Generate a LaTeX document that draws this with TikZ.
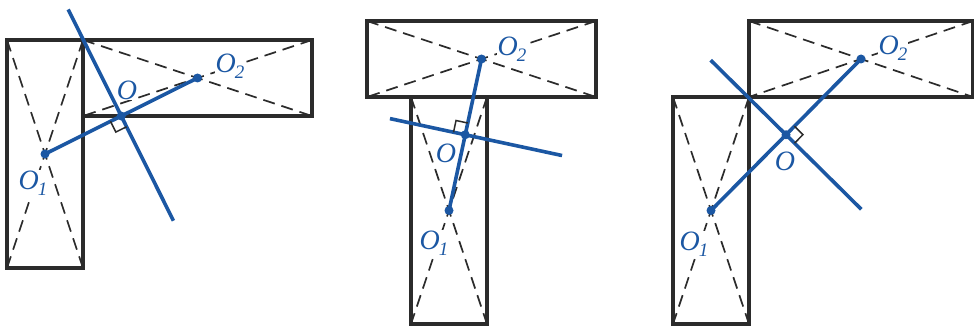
\documentclass[tikz,border=0pt]{standalone}
\usepackage{fontspec}
\setmainfont{Liberation Serif}
\usetikzlibrary{calc}
\definecolor{bl}{HTML}{1B57A3}
\definecolor{dk}{HTML}{2B2B2B}
\newcommand{\lbO}[1]{\itshape O\kern-1pt\raisebox{-6pt}{\fontsize{19}{19}\selectfont #1}}
\tikzset{
  frame/.style={draw=dk, line width=4pt},
  diag/.style={draw=dk, line width=1.7pt, dash pattern=on 12pt off 7pt},
  axis/.style={draw=bl, line width=3.6pt},
  dot/.style={circle, fill=bl, inner sep=0pt, minimum size=9pt},
  lab/.style={text=bl, fill=white, inner sep=0.5pt, font=\fontsize{28}{28}\selectfont},
  rangle/.style={draw=dk, line width=1.5pt},
}
\begin{document}
\begin{tikzpicture}[x=1pt,y=-1pt]
\useasboundingbox (0,0) rectangle (974,326);
% ---------- figure 1 ----------
\coordinate (a1) at (7,40);   \coordinate (a2) at (83,268);
\coordinate (a3) at (83,40);  \coordinate (a4) at (7,268);
\coordinate (b1) at (83,40);  \coordinate (b2) at (312,116);
\coordinate (b3) at (312,40); \coordinate (b4) at (83,116);
\draw[diag] (a1) -- (a2) (a3) -- (a4) (b1) -- (b2) (b3) -- (b4);
\node[lab] (l1a) at (33,183) {\lbO{1}};
\node[lab] (l1b) at (127,90) {\itshape O};
\node[lab] (l1c) at (230,66) {\lbO{2}};
\draw[frame] (a1) rectangle (a2);
\draw[frame] (b1) rectangle (b2);
\coordinate (O1a) at ($(a1)!0.5!(a2)$);
\coordinate (O2a) at ($(b1)!0.5!(b2)$);
\coordinate (Oa) at ($(O1a)!0.5!(O2a)$);
\coordinate (Pa) at ($(Oa)!119pt!90:(O2a)$);
\coordinate (Qa) at ($(Oa)!117pt!-90:(O2a)$);
\draw[axis] (Pa) -- (Qa);
\draw[axis] (O1a) -- (O2a);
\coordinate (ra1) at ($(Oa)!12pt!(O1a)$);
\coordinate (ra2) at ($(Oa)!12pt!(Qa)$);
\draw[rangle] (ra1) -- ($(ra1)+(ra2)-(Oa)$) -- (ra2);
\node[dot] (d1a) at (O1a) {};
\node[dot] (d2a) at (O2a) {};
\node[dot] (d3a) at (Oa) {};
% ---------- figure 2 ----------
\coordinate (c1) at (367,21);  \coordinate (c2) at (596,97);
\coordinate (c3) at (596,21);  \coordinate (c4) at (367,97);
\coordinate (e1) at (411,97);  \coordinate (e2) at (487,324);
\coordinate (e3) at (487,97);  \coordinate (e4) at (411,324);
\draw[diag] (c1) -- (c2) (c3) -- (c4) (e1) -- (e2) (e3) -- (e4);
\node[lab] (l2a) at (434,243) {\lbO{1}};
\node[lab] (l2b) at (446,153) {\itshape O};
\node[lab] (l2c) at (512,49) {\lbO{2}};
\draw[frame] (c1) rectangle (c2);
\draw[frame] (e1) rectangle (e2);
\coordinate (O1b) at ($(e1)!0.5!(e2)$);
\coordinate (O2b) at ($(c1)!0.5!(c2)$);
\coordinate (Ob) at ($(O1b)!0.5!(O2b)$);
\coordinate (Pb) at ($(Ob)!77pt!90:(O2b)$);
\coordinate (Qb) at ($(Ob)!99pt!-90:(O2b)$);
\draw[axis] (Pb) -- (Qb);
\draw[axis] (O1b) -- (O2b);
\coordinate (rb1) at ($(Ob)!12pt!(O2b)$);
\coordinate (rb2) at ($(Ob)!12pt!(Pb)$);
\draw[rangle] (rb1) -- ($(rb1)+(rb2)-(Ob)$) -- (rb2);
\node[dot] (d1b) at (O1b) {};
\node[dot] (d2b) at (O2b) {};
\node[dot] (d3b) at (Ob) {};
% ---------- figure 3 ----------
\coordinate (f1) at (749,21);  \coordinate (f2) at (973,97);
\coordinate (f3) at (973,21);  \coordinate (f4) at (749,97);
\coordinate (g1) at (673,97);  \coordinate (g2) at (749,324);
\coordinate (g3) at (749,97);  \coordinate (g4) at (673,324);
\draw[diag] (f1) -- (f2) (f3) -- (f4) (g1) -- (g2) (g3) -- (g4);
\node[lab] (l3a) at (694,244) {\lbO{1}};
\node[lab] (l3b) at (785,161) {\itshape O};
\node[lab] (l3c) at (893,48) {\lbO{2}};
\draw[frame] (f1) rectangle (f2);
\draw[frame] (g1) rectangle (g2);
\coordinate (O1c) at ($(g1)!0.5!(g2)$);
\coordinate (O2c) at ($(f1)!0.5!(f2)$);
\coordinate (Oc) at ($(O1c)!0.5!(O2c)$);
\coordinate (Pc) at ($(Oc)!106pt!90:(O2c)$);
\coordinate (Qc) at ($(Oc)!106pt!-90:(O2c)$);
\draw[axis] (Pc) -- (Qc);
\draw[axis] (O1c) -- (O2c);
\coordinate (rc1) at ($(Oc)!12pt!(O2c)$);
\coordinate (rc2) at ($(Oc)!12pt!(Qc)$);
\draw[rangle] (rc1) -- ($(rc1)+(rc2)-(Oc)$) -- (rc2);
\node[dot] (d1c) at (O1c) {};
\node[dot] (d2c) at (O2c) {};
\node[dot] (d3c) at (Oc) {};
\end{tikzpicture}
\end{document}
